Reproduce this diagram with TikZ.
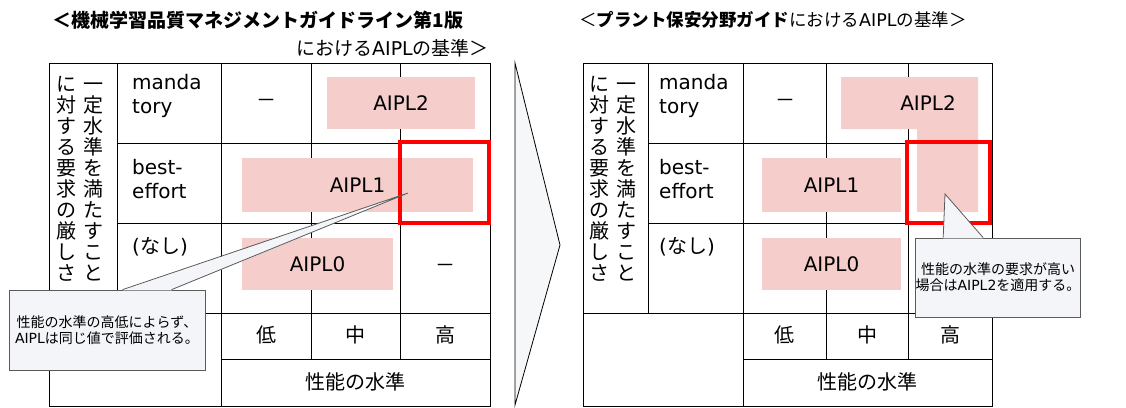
\documentclass[tikz,border=0pt]{standalone}
\usepackage{fontspec}
\setmainfont{DejaVu Sans}
\newfontfamily\jp{Noto Sans CJK JP}
\newfontfamily\lat{DejaVu Sans}
\definecolor{aiplpink}{RGB}{245,206,204}
\definecolor{notefill}{RGB}{243,245,248}
\definecolor{noteline}{RGB}{90,90,90}
\definecolor{chevfill}{RGB}{246,247,249}
\newcommand{\topstrut}{\rule{0pt}{17pt}}
\newcommand{\botstrut}{\rule[-3pt]{0pt}{3pt}}

\begin{document}
\begin{tikzpicture}[x=1pt,y=-1pt,
		grid/.style={draw=black,line width=0.8pt},
		cell/.style={inner sep=0pt,font=\fontsize{20}{24}\selectfont},
		rowlabel/.style={cell,anchor=west,align=left},
		vtext/.style={inner sep=0pt,align=center,font=\jp\fontsize{20}{20.9}\selectfont},
		pinkbox/.style={cell,fill=aiplpink},
		redframe/.style={draw=red,line width=3.2pt},
		note/.style={draw=noteline,fill=notefill,line width=0.8pt,inner sep=0pt,align=center,font=\jp\fontsize{14}{16}\selectfont}]
	\useasboundingbox (0,0) rectangle (1126,407);

	% titles
	\node[inner sep=0pt, font=\jp\bfseries\fontsize{19}{22}\selectfont] (titleL1) at (258,20) {＜機械学習品質マネジメントガイドライン第1版};
	\node[inner sep=0pt, anchor=east, font=\fontsize{19}{22}\selectfont] (titleL2) at (489,48) {{\jp における}AIPL{\jp の基準＞}};
	\node[inner sep=0pt, anchor=west, font=\fontsize{17.5}{22}\selectfont] (titleR) at (579,20) {{\jp ＜}{\jp\bfseries プラント保安分野ガイド}{\jp における}AIPL{\jp の基準＞}};

	% left table
	\draw[grid] (49,63) rectangle (490,406);
	\draw[grid] (117,143) -- (490,143) (117,223) -- (490,223) (49,313) -- (490,313) (221,359) -- (490,359);
	\draw[grid] (117,63) -- (117,313) (221,63) -- (221,406) (311,63) -- (311,359) (400,63) -- (400,359);

	\node[vtext] (axisL1) at (93,179) {\topstrut 一\\定\\水\\準\\を\\満\\た\\す\\こ\\と\botstrut};
	\node[vtext] (axisL2) at (66,179) {\topstrut に\\対\\す\\る\\要\\求\\の\\厳\\し\\さ\botstrut};
	\node[rowlabel] (mandL) at (132,96)  {manda\\tory};
	\node[rowlabel] (bestL) at (132,179) {best-\\effort};
	\node[rowlabel] (noneL) at (132,247) {({\jp なし})};

	\node[pinkbox, minimum width=148pt, minimum height=52pt] (aipl2L) at (401,103)   {AIPL2};
	\node[pinkbox, minimum width=231pt, minimum height=54pt] (aipl1L) at (357.5,185) {AIPL1};
	\node[pinkbox, minimum width=151pt, minimum height=52pt] (aipl0L) at (317.5,264) {AIPL0};
	\node[cell, font=\jp\fontsize{20}{24}\selectfont] (dashL1) at (266,103) {－};
	\node[cell, font=\jp\fontsize{20}{24}\selectfont] (dashL2) at (445,268) {－};

	\node[cell, font=\jp\fontsize{20}{24}\selectfont] (lowL)  at (266,335)   {低};
	\node[cell, font=\jp\fontsize{20}{24}\selectfont] (midL)  at (355.5,335) {中};
	\node[cell, font=\jp\fontsize{20}{24}\selectfont] (highL) at (445,335)   {高};
	\node[cell, font=\jp\fontsize{20}{24}\selectfont] (perfL) at (355.5,382) {性能の水準};

	\draw[redframe] (400,142) rectangle (489,223);

	% left note
	\node[note, minimum width=196pt, minimum height=80pt] (noteL) at (107,330) {性能の水準の高低によらず、\\{\lat AIPL}は同じ値で評価される。};
	\coordinate (tipL) at (408,193);
	\fill[notefill] ([xshift=114pt,yshift=-0.8pt]noteL.north west) -- (tipL) -- ([xshift=163pt,yshift=-0.8pt]noteL.north west) -- cycle;
	\draw[noteline, line width=0.8pt] ([xshift=114pt]noteL.north west) -- (tipL) -- ([xshift=163pt]noteL.north west);

	% chevron
	\draw[fill=chevfill, line width=0.8pt] (515,63) coordinate (chevA) -- (560,245) coordinate (chevB) -- (515,405) coordinate (chevC) -- cycle;

	% right table
	\draw[grid] (583,63) rectangle (992,406);
	\draw[grid] (648,143) -- (992,143) (648,223) -- (992,223) (583,313) -- (992,313) (743,359) -- (992,359);
	\draw[grid] (648,63) -- (648,313) (743,63) -- (743,406) (826,63) -- (826,359) (908,63) -- (908,359);

	\node[vtext] (axisR1) at (626,179) {\topstrut 一\\定\\水\\準\\を\\満\\た\\す\\こ\\と\botstrut};
	\node[vtext] (axisR2) at (599,179) {\topstrut に\\対\\す\\る\\要\\求\\の\\厳\\し\\さ\botstrut};
	\node[rowlabel] (mandR) at (659,96)  {manda\\tory};
	\node[rowlabel] (bestR) at (659,179) {best-\\effort};
	\node[rowlabel] (noneR) at (659,247) {({\jp なし})};

	\fill[aiplpink] (841,77) -- (978,77) -- (978,212) -- (917,212) -- (917,129) -- (841,129) -- cycle;
	\node[cell] (aipl2R) at (928,103) {AIPL2};
	\node[pinkbox, minimum width=139pt, minimum height=54pt] (aipl1R) at (831.5,185) {AIPL1};
	\node[pinkbox, minimum width=139pt, minimum height=52pt] (aipl0R) at (831.5,264) {AIPL0};
	\node[cell, font=\jp\fontsize{20}{24}\selectfont] (dashR1) at (785.5,103) {－};

	\node[cell, font=\jp\fontsize{20}{24}\selectfont] (lowR)  at (784.5,335) {低};
	\node[cell, font=\jp\fontsize{20}{24}\selectfont] (midR)  at (867,335)   {中};
	\node[cell, font=\jp\fontsize{20}{24}\selectfont] (highR) at (950,335)   {高};
	\node[cell, font=\jp\fontsize{20}{24}\selectfont] (perfR) at (867.5,382) {性能の水準};

	\draw[redframe] (907,142) rectangle (990,223);

	% right note
	\node[note, minimum width=162pt, minimum height=79pt] (noteR) at (998,277.5) {性能の水準の要求が高い\\場合は{\lat AIPL2}を適用する。};
	\coordinate (tipR) at (945,194);
	\fill[notefill] ([xshift=28pt,yshift=-0.8pt]noteR.north west) -- (tipR) -- ([xshift=68pt,yshift=-0.8pt]noteR.north west) -- cycle;
	\draw[noteline, line width=0.8pt] ([xshift=28pt]noteR.north west) -- (tipR) -- ([xshift=68pt]noteR.north west);
\end{tikzpicture}
\end{document}
